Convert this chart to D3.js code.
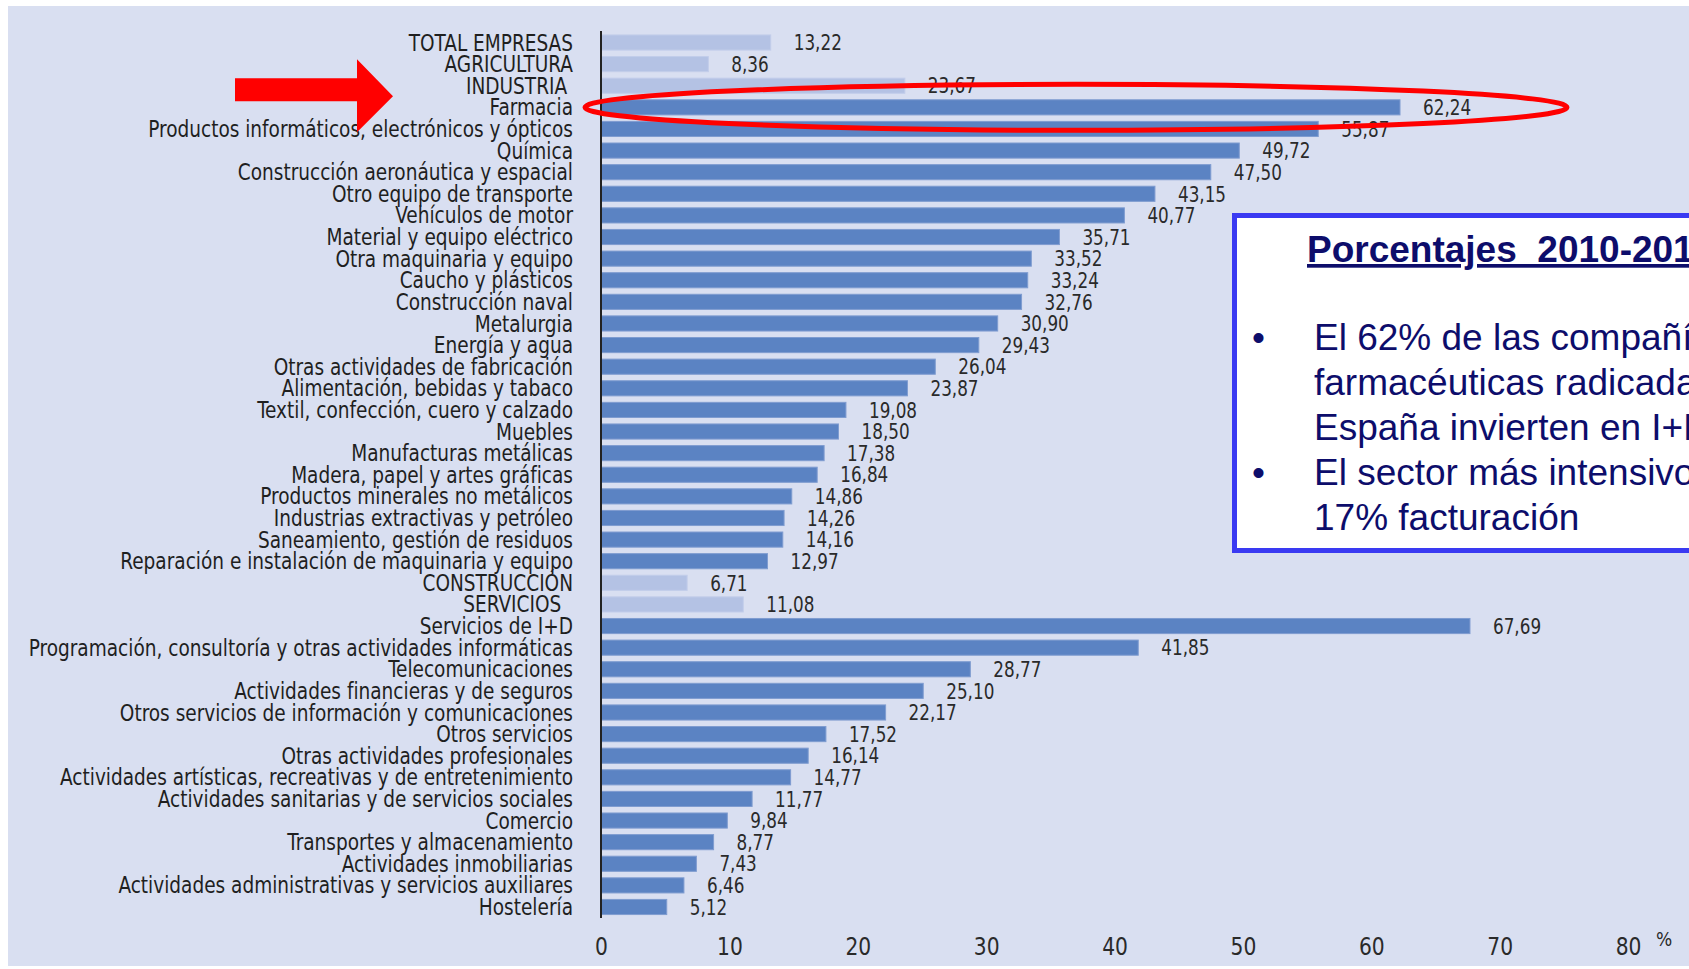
<!DOCTYPE html>
<html lang="es">
<head>
<meta charset="utf-8">
<script src="https://cdn.jsdelivr.net/npm/d3@7"></script>
<style>
  html, body { margin: 0; padding: 0; background: #ffffff; overflow: hidden; }
  svg { display: block; }
  .narrow { font-family: "Liberation Sans Narrow", "DejaVu Sans Condensed", "Arial Narrow", sans-serif; }
  .box { font-family: "Liberation Sans", Arial, sans-serif; }
</style>
</head>
<body>
<svg id="chart" width="1689" height="969"></svg>
<script>
// ---- DATA ----
const categories = [
  "TOTAL EMPRESAS", "AGRICULTURA", "INDUSTRIA\u00a0", "Farmacia",
  "Productos informáticos, electrónicos y ópticos", "Química",
  "Construcción aeronáutica y espacial", "Otro equipo de transporte",
  "Vehículos de motor", "Material y equipo eléctrico", "Otra maquinaria y equipo",
  "Caucho y plásticos", "Construcción naval", "Metalurgia", "Energía y agua",
  "Otras actividades de fabricación", "Alimentación, bebidas y tabaco",
  "Textil, confección, cuero y calzado", "Muebles", "Manufacturas metálicas",
  "Madera, papel y artes gráficas", "Productos minerales no metálicos",
  "Industrias extractivas y petróleo", "Saneamiento, gestión de residuos",
  "Reparación e instalación de maquinaria y equipo", "CONSTRUCCIÓN", "SERVICIOS\u00a0\u00a0",
  "Servicios de I+D", "Programación, consultoría y otras actividades informáticas",
  "Telecomunicaciones", "Actividades financieras y de seguros",
  "Otros servicios de información y comunicaciones", "Otros servicios",
  "Otras actividades profesionales",
  "Actividades artísticas, recreativas y de entretenimiento",
  "Actividades sanitarias y de servicios sociales", "Comercio",
  "Transportes y almacenamiento", "Actividades inmobiliarias",
  "Actividades administrativas y servicios auxiliares", "Hostelería"
];
const values = [
  13.22, 8.36, 23.67, 62.24, 55.87, 49.72, 47.50, 43.15, 40.77, 35.71, 33.52,
  33.24, 32.76, 30.90, 29.43, 26.04, 23.87, 19.08, 18.50, 17.38, 16.84, 14.86,
  14.26, 14.16, 12.97, 6.71, 11.08, 67.69, 41.85, 28.77, 25.10, 22.17, 17.52,
  16.14, 14.77, 11.77, 9.84, 8.77, 7.43, 6.46, 5.12
];
// aggregate (summary) rows drawn in the light colour
const aggregates = ["TOTAL EMPRESAS", "AGRICULTURA", "INDUSTRIA\u00a0", "CONSTRUCCIÓN", "SERVICIOS\u00a0\u00a0"];
const xTicks = [0, 10, 20, 30, 40, 50, 60, 70, 80];
const highlighted = "Farmacia";
const boxTitle = "Porcentajes  2010-2013";
const boxBullets = [
  ["El 62% de las compañías", "farmacéuticas radicadas en", "España invierten en I+D"],
  ["El sector más intensivo en I+D:", "17% facturación"]
];

// ---- LAYOUT ----
const svg = d3.select("#chart");
const W = 1689, H = 969;

svg.append("rect").attr("x", 8).attr("y", 6).attr("width", W - 8).attr("height", H - 9)
  .attr("fill", "#d9dff1");

const x = d3.scaleLinear().domain([0, 80]).range([601, 1628]);
const y = d3.scaleBand().domain(categories).range([31.7, 917.8]).paddingInner(0.3).paddingOuter(0.15);

const locale = d3.formatLocale({decimal: ",", thousands: ".", grouping: [3], currency: ["", "€"]});
const fmt = locale.format(".2f");

const data = categories.map((c, i) => ({cat: c, v: values[i], agg: aggregates.includes(c)}));
const cy = d => y(d.cat) + y.bandwidth() / 2;

// bars
svg.append("g").selectAll("rect").data(data).join("rect")
  .attr("x", x(0))
  .attr("y", d => y(d.cat))
  .attr("width", d => x(d.v) - x(0))
  .attr("height", y.bandwidth())
  .attr("fill", d => d.agg ? "#b4c2e4" : "#5b83c3")
  .attr("stroke", d => d.agg ? "#c2cdea" : "#7f9cd0")
  .attr("stroke-width", 1);

// axis line
svg.append("line")
  .attr("x1", x(0)).attr("x2", x(0))
  .attr("y1", 31).attr("y2", 918)
  .attr("stroke", "#222").attr("stroke-width", 2);

// category labels (condensed)
svg.append("g").attr("class", "narrow").selectAll("text").data(data).join("text")
  .attr("transform", d => `translate(573,${cy(d)}) scale(0.895,1)`)
  .attr("dy", "0.35em")
  .attr("text-anchor", "end")
  .attr("font-size", 23)
  .attr("fill", "#1f1f1f")
  .style("white-space", "pre")
  .text(d => d.cat);

// value labels
svg.append("g").attr("class", "narrow").selectAll("text").data(data).join("text")
  .attr("transform", d => `translate(${x(d.v) + 23},${cy(d)}) scale(0.85,1)`)
  .attr("dy", "0.35em")
  .attr("font-size", 22)
  .attr("fill", "#2a2a2a")
  .text(d => fmt(d.v));

// x tick labels
const xAxis = d3.axisBottom(x).tickValues(xTicks).tickSize(0).tickPadding(0).tickFormat(d3.format("d"));
const gx = svg.append("g").attr("transform", "translate(0,937)").call(xAxis);
gx.select(".domain").remove();
gx.selectAll("text").attr("class", "narrow").attr("font-size", 25).attr("fill", "#2a2a2a")
  .attr("font-family", null).attr("transform", "scale(0.9,1)");
svg.append("text").attr("class", "narrow")
  .attr("x", x(80) + 28).attr("y", 946)
  .attr("font-size", 19).attr("fill", "#2a2a2a").text("%");

// red highlight ellipse around the highlighted bar
const hy = y(highlighted) + y.bandwidth() / 2;
svg.append("ellipse")
  .attr("cx", (585 + 1567) / 2).attr("cy", hy)
  .attr("rx", (1567 - 585) / 2).attr("ry", 23)
  .attr("fill", "none").attr("stroke", "#ff0000").attr("stroke-width", 5);

// red arrow
svg.append("polygon")
  .attr("points", [[235, hy - 29], [357, hy - 29], [357, hy - 48], [393, hy - 11], [357, hy + 25], [357, hy - 6], [235, hy - 6]].map(p => p.join(",")).join(" "))
  .attr("fill", "#ff0000");

// annotation box
const box = svg.append("g").attr("class", "box");
box.append("rect")
  .attr("x", 1234.5).attr("y", 215.5).attr("width", 600).attr("height", 335)
  .attr("fill", "#ffffff").attr("stroke", "#3a3af2").attr("stroke-width", 5);
box.append("text")
  .attr("x", 1307).attr("y", 262)
  .attr("font-size", 37).attr("font-weight", "bold").attr("fill", "#0d0d6b")
  .attr("text-decoration", "underline")
  .style("white-space", "pre")
  .text(boxTitle);
let line = 0;
boxBullets.forEach(b => {
  box.append("text").attr("x", 1252).attr("y", 350 + line * 45)
    .attr("font-size", 37).attr("fill", "#0d0d6b").text("•");
  b.forEach(t => {
    box.append("text").attr("x", 1314).attr("y", 350 + line * 45)
      .attr("font-size", 37).attr("fill", "#0d0d6b").text(t);
    line++;
  });
});
</script>
</body>
</html>
